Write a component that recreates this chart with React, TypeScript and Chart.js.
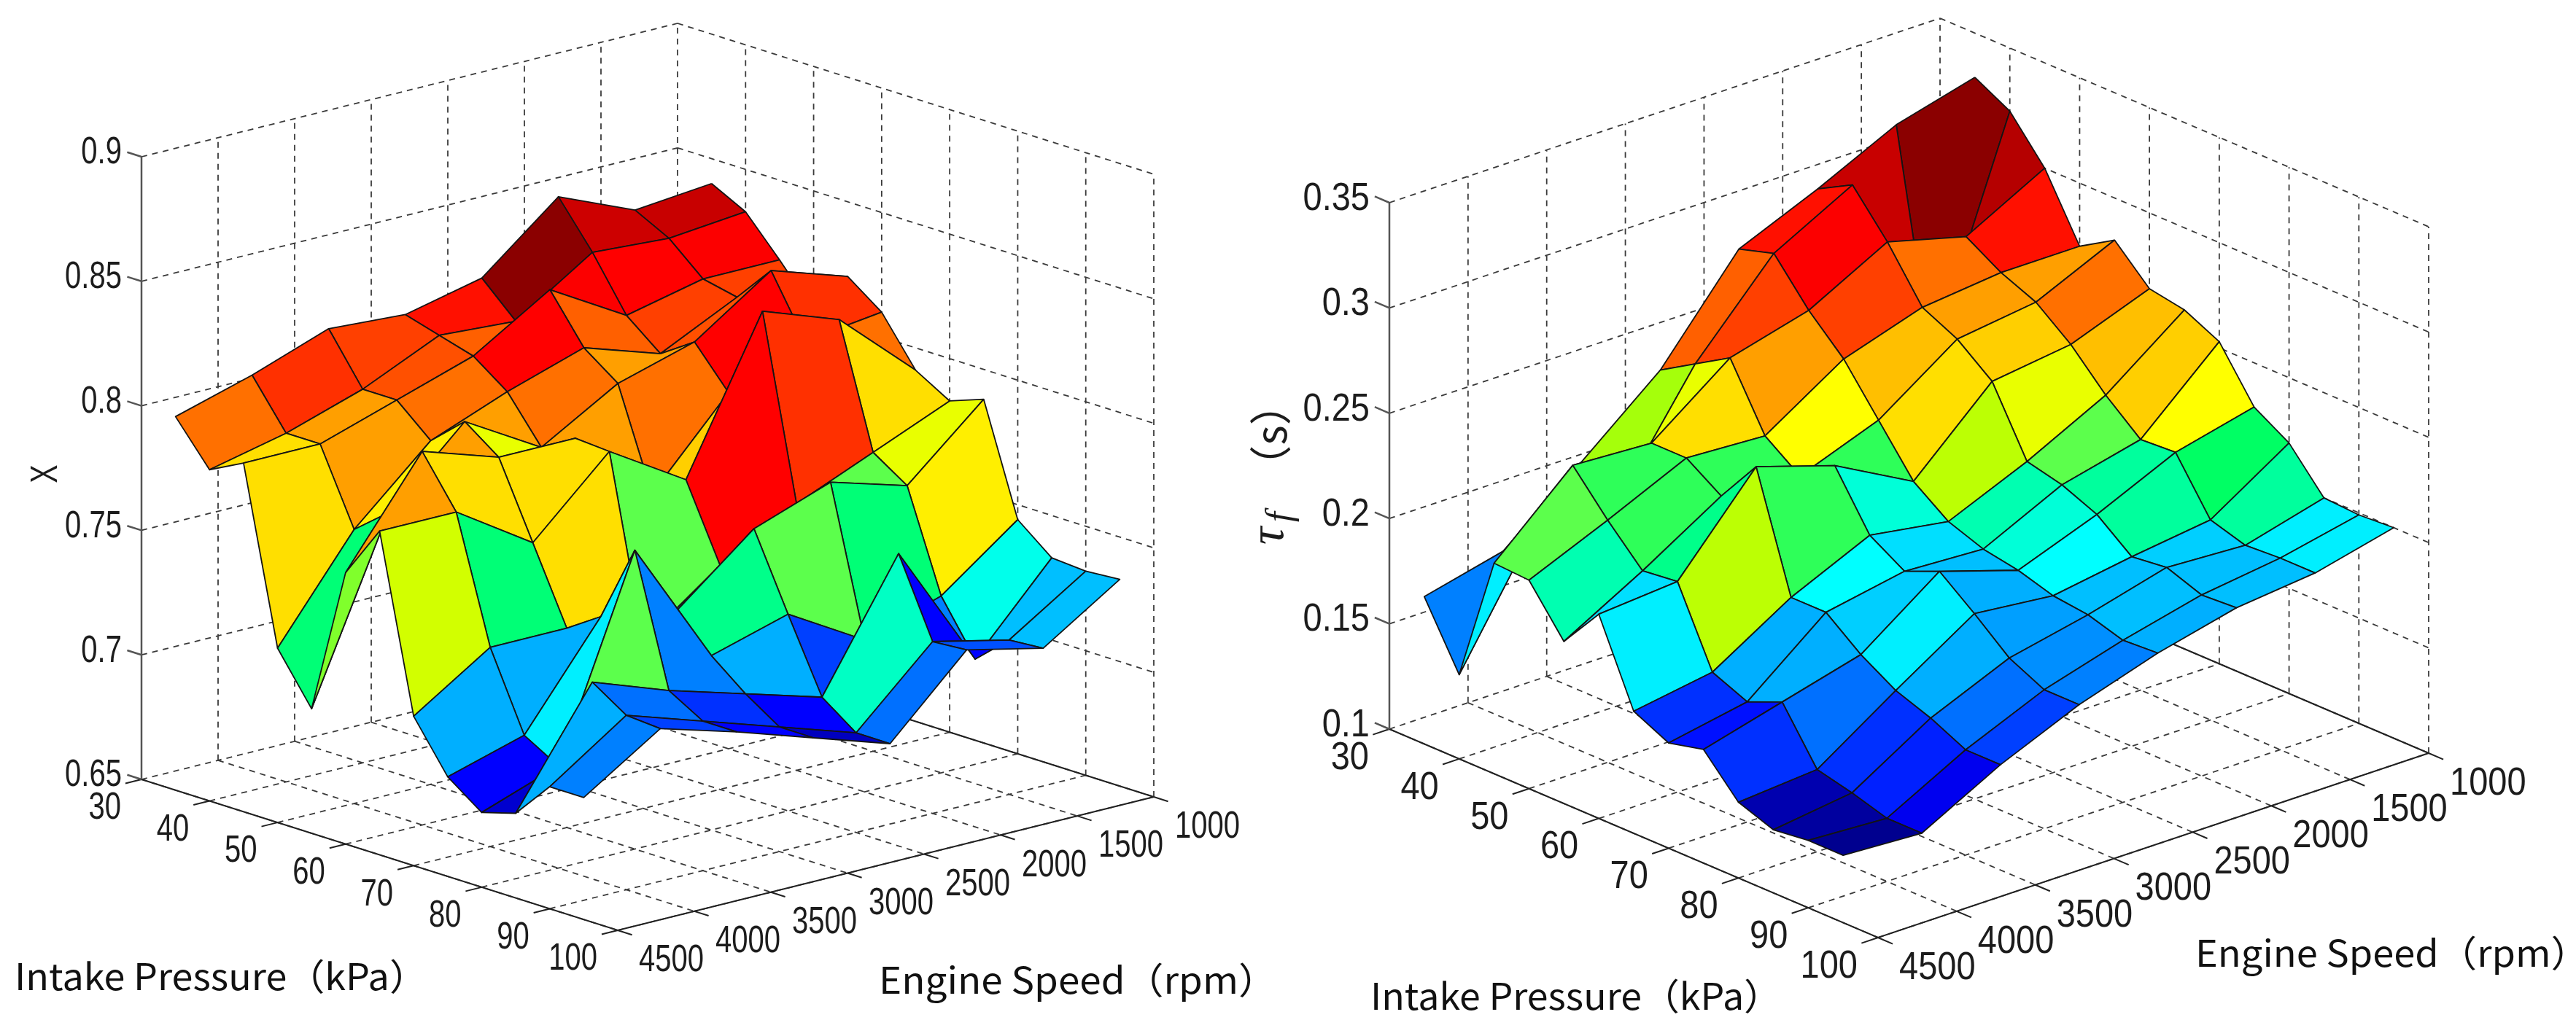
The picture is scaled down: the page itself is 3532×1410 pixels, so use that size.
import React, { useEffect, useRef } from 'react';
import Chart from 'chart.js/auto';

const PAGE_W = 3532;
const PAGE_H = 1410;

// axis ticks, same on both plots
const pressureTicks = [30, 40, 50, 60, 70, 80, 90, 100];
const speedTicks = [4500, 4000, 3500, 3000, 2500, 2000, 1500, 1000];

// measured grid of the surfaces
const pressures = [35, 40, 45, 50, 55, 60, 65, 70, 75, 80, 85, 90, 95];
const speeds = [4500, 4000, 3500, 3000, 2500, 2000, 1500, 1000];

const xTicks = [0.65, 0.7, 0.75, 0.8, 0.85, 0.9];
const xTickLabels = ['0.65', '0.7', '0.75', '0.8', '0.85', '0.9'];
const tauTicks = [0.1, 0.15, 0.2, 0.25, 0.3, 0.35];
const tauTickLabels = ['0.1', '0.15', '0.2', '0.25', '0.3', '0.35'];

// one row per engine speed (4500 -> 1000), one column per intake pressure
const xValues = [
  [0.800, 0.783, 0.790, 0.720, 0.700, 0.759, 0.780, 0.710, 0.690, 0.680, 0.684, 0.699, 0.699],
  [0.809, 0.790, 0.790, 0.760, 0.771, 0.800, 0.780, 0.730, 0.699, 0.691, 0.729, 0.720, 0.719],
  [0.820, 0.800, 0.800, 0.788, 0.800, 0.790, 0.760, 0.730, 0.739, 0.770, 0.718, 0.710, 0.710],
  [0.818, 0.814, 0.810, 0.800, 0.782, 0.790, 0.789, 0.717, 0.734, 0.720, 0.709, 0.700, 0.700],
  [0.825, 0.812, 0.829, 0.810, 0.800, 0.760, 0.770, 0.740, 0.759, 0.729, 0.700, 0.690, 0.690],
  [0.850, 0.832, 0.811, 0.800, 0.809, 0.793, 0.830, 0.757, 0.770, 0.711, 0.750, 0.719, 0.720],
  [0.837, 0.830, 0.818, 0.815, 0.830, 0.806, 0.819, 0.770, 0.761, 0.721, 0.700, 0.712, 0.713],
  [0.840, 0.833, 0.818, 0.802, 0.820, 0.810, 0.791, 0.783, 0.788, 0.744, 0.733, 0.732, 0.733],
];

const tauValues = [
  [0.170, 0.140, 0.200, 0.199, 0.177, 0.197, 0.158, 0.150, 0.154, 0.136, 0.130, 0.132, 0.132],
  [0.179, 0.200, 0.234, 0.215, 0.198, 0.200, 0.164, 0.157, 0.164, 0.139, 0.135, 0.130, 0.130],
  [0.209, 0.196, 0.232, 0.232, 0.221, 0.242, 0.187, 0.187, 0.174, 0.164, 0.158, 0.150, 0.150],
  [0.240, 0.250, 0.260, 0.230, 0.218, 0.230, 0.204, 0.194, 0.201, 0.188, 0.174, 0.166, 0.166],
  [0.285, 0.290, 0.270, 0.254, 0.232, 0.210, 0.198, 0.192, 0.189, 0.184, 0.182, 0.177, 0.178],
  [0.301, 0.310, 0.290, 0.266, 0.258, 0.245, 0.214, 0.210, 0.203, 0.190, 0.192, 0.186, 0.187],
  [0.319, 0.216, 0.280, 0.270, 0.263, 0.250, 0.233, 0.219, 0.220, 0.195, 0.190, 0.191, 0.191],
  [0.329, 0.320, 0.300, 0.270, 0.280, 0.264, 0.261, 0.253, 0.229, 0.219, 0.200, 0.199, 0.200],
];

// jet as it came out in the picture: greens pushed harder, top reds darker
const redStops = [[0, 0], [0.5, 0], [0.53, 0.35], [0.563, 0.65], [0.625, 1], [0.905, 1], [0.925, 0.82], [0.955, 0.78], [1, 0.545]];
const greenStops = [[0, 0], [0.125, 0], [0.375, 1], [0.625, 1], [0.875, 0], [1, 0]];
const blueStops = [[0, 0.5], [0.125, 1], [0.375, 1], [0.4975, 0.4], [0.53, 0.31], [0.563, 0.04], [0.59, 0], [1, 0]];

type Box = {
  corner: [number, number]; // p=30, 4500 rpm, bottom of the z axis
  front: [number, number]; // p=100, 4500 rpm
  right: [number, number]; // p=100, 1000 rpm
  height: number;
  zTicks: number[];
  zLabels: string[];
  values: number[][];
  fontSize: number;
  squeeze: number;
  pressureTitle: { x: number; y: number; w: number };
  speedTitle: { x: number; y: number; w: number };
};

const leftBox: Box = {
  corner: [194, 1069],
  front: [847, 1276],
  right: [1582, 1093],
  height: 854,
  zTicks: xTicks,
  zLabels: xTickLabels,
  values: xValues,
  fontSize: 52,
  squeeze: 0.77,
  pressureTitle: { x: 20, y: 1339, w: 566 },
  speedTitle: { x: 1205, y: 1344, w: 546 },
};

const rightBox: Box = {
  corner: [1905, 1000],
  front: [2575, 1286],
  right: [3330, 1033],
  height: 722,
  zTicks: tauTicks,
  zLabels: tauTickLabels,
  values: tauValues,
  fontSize: 54,
  squeeze: 0.87,
  pressureTitle: { x: 1879, y: 1366, w: 564 },
  speedTitle: { x: 3010, y: 1307, w: 540 },
};

// orthographic view, same as the matlab surf: straight sum of the three axis vectors
const project = (box: Box, pressure: number, speed: number, z: number) => {
  const u = (pressure - 30) / 70;
  const v = (4500 - speed) / 3500;
  const zMin = box.zTicks[0];
  const w = (z - zMin) / (box.zTicks[box.zTicks.length - 1] - zMin);
  return {
    x: box.corner[0] + u * (box.front[0] - box.corner[0]) + v * (box.right[0] - box.front[0]),
    y: box.corner[1] + u * (box.front[1] - box.corner[1]) + v * (box.right[1] - box.front[1]) - w * box.height,
  };
};

const clamp01 = (n: number) => Math.max(0, Math.min(1, n));

const readStops = (stops: number[][], t: number) => {
  for (let i = 1; i < stops.length; i++) {
    if (t <= stops[i][0]) {
      const [t0, v0] = stops[i - 1];
      const [t1, v1] = stops[i];
      return v0 + ((t - t0) / (t1 - t0)) * (v1 - v0);
    }
  }
  return stops[stops.length - 1][1];
};

const jet = (t: number) => {
  const level = (Math.min(63, Math.floor(clamp01(t) * 64)) + 1) / 64;
  const r = readStops(redStops, level);
  const g = readStops(greenStops, level);
  const b = readStops(blueStops, level);
  return `rgb(${Math.round(r * 255)},${Math.round(g * 255)},${Math.round(b * 255)})`;
};

const GAP = { x: NaN, y: NaN };

const lineSet = (data: { x: number; y: number }[], color: string, width: number, dash: number[] = []) => ({
  data,
  showLine: true,
  fill: false,
  pointRadius: 0,
  borderColor: color,
  borderWidth: width,
  borderDash: dash,
});

const gridSet = (box: Box) => {
  const zBottom = box.zTicks[0];
  const zTop = box.zTicks[box.zTicks.length - 1];
  const pts: { x: number; y: number }[] = [];
  const seg = (a: { x: number; y: number }, b: { x: number; y: number }) => pts.push(a, b, GAP);
  speedTicks.forEach((s) => {
    seg(project(box, 30, s, zBottom), project(box, 100, s, zBottom));
    if (s !== 4500) seg(project(box, 30, s, zBottom), project(box, 30, s, zTop));
  });
  pressureTicks.forEach((p) => {
    seg(project(box, p, 4500, zBottom), project(box, p, 1000, zBottom));
    seg(project(box, p, 1000, zBottom), project(box, p, 1000, zTop));
  });
  box.zTicks.forEach((z) => {
    seg(project(box, 30, 4500, z), project(box, 30, 1000, z));
    seg(project(box, 30, 1000, z), project(box, 100, 1000, z));
  });
  return lineSet(pts, '#3a3a3a', 1.8, [8, 7]);
};

const axisSets = (box: Box) => {
  const zBottom = box.zTicks[0];
  const zTop = box.zTicks[box.zTicks.length - 1];
  const ax = (box.front[0] - box.corner[0]) * 0.03;
  const ay = (box.front[1] - box.corner[1]) * 0.03;
  const bx = (box.right[0] - box.front[0]) * 0.03;
  const by = (box.right[1] - box.front[1]) * 0.03;
  const dark: { x: number; y: number }[] = [
    project(box, 30, 4500, zBottom), project(box, 100, 4500, zBottom), project(box, 100, 1000, zBottom), GAP,
    project(box, 30, 1000, zBottom), project(box, 100, 1000, zBottom), GAP,
  ];
  pressureTicks.forEach((p) => {
    const a = project(box, p, 4500, zBottom);
    dark.push(a, { x: a.x - bx, y: a.y - by }, GAP);
  });
  speedTicks.forEach((s) => {
    const a = project(box, 100, s, zBottom);
    dark.push(a, { x: a.x + ax, y: a.y + ay }, GAP);
  });
  const grey: { x: number; y: number }[] = [project(box, 30, 4500, zBottom), project(box, 30, 4500, zTop), GAP];
  box.zTicks.forEach((z) => {
    const a = project(box, 30, 4500, z);
    grey.push(a, { x: a.x - ax, y: a.y - ay }, GAP);
  });
  return [lineSet(dark, '#222', 2), lineSet(grey, '#555', 2.5)];
};

// painter's order, far corner (low pressure, low speed) first.
// a cell takes its colour from its low pressure / low speed corner
const faceSets = (box: Box) => {
  const all = box.values.flat();
  const lo = Math.min(...all);
  const hi = Math.max(...all);
  const out: any[] = [];
  for (let i = 0; i < pressures.length - 1; i++) {
    for (let k = speeds.length - 1; k > 0; k--) {
      const z = box.values;
      const corners = [
        project(box, pressures[i], speeds[k], z[k][i]),
        project(box, pressures[i + 1], speeds[k], z[k][i + 1]),
        project(box, pressures[i + 1], speeds[k - 1], z[k - 1][i + 1]),
        project(box, pressures[i], speeds[k - 1], z[k - 1][i]),
      ];
      out.push({
        data: [...corners, corners[0]],
        showLine: true,
        fill: 'shape',
        backgroundColor: jet((z[k][i] - lo) / (hi - lo)),
        borderColor: '#141414',
        borderWidth: 1.8,
        borderJoinStyle: 'round',
        pointRadius: 0,
      });
    }
  }
  return out;
};

const textAt = (
  ctx: CanvasRenderingContext2D,
  text: string,
  x: number,
  y: number,
  align: CanvasTextAlign,
  squeeze: number
) => {
  ctx.save();
  ctx.translate(x, y);
  ctx.scale(squeeze, 1);
  ctx.textAlign = align;
  ctx.textBaseline = 'middle';
  ctx.fillText(text, 0, 0);
  ctx.restore();
};

const fittedTitle = (ctx: CanvasRenderingContext2D, text: string, spot: { x: number; y: number; w: number }) => {
  ctx.font = "50px 'Noto Sans CJK SC', 'Noto Sans'";
  ctx.fillStyle = '#111';
  textAt(ctx, text, spot.x, spot.y, 'left', spot.w / ctx.measureText(text).width);
};

const sideways = (ctx: CanvasRenderingContext2D, text: string, x: number, y: number, font: string, sx = 1) => {
  ctx.save();
  ctx.translate(x, y);
  ctx.rotate(-Math.PI / 2);
  ctx.scale(sx, 1);
  ctx.font = font;
  ctx.textAlign = 'center';
  ctx.textBaseline = 'alphabetic';
  ctx.fillText(text, 0, 0);
  ctx.restore();
};

const labelsPlugin = {
  id: 'boxLabels',
  afterDatasetsDraw(chart: any) {
    const ctx: CanvasRenderingContext2D = chart.ctx;
    const sx = chart.scales.x;
    const sy = chart.scales.y;
    [leftBox, rightBox].forEach((box) => {
      const zBottom = box.zTicks[0];
      const at = (p: number, s: number, z: number) => {
        const q = project(box, p, s, z);
        return { x: sx.getPixelForValue(q.x), y: sy.getPixelForValue(q.y) };
      };
      ctx.font = `${box.fontSize}px 'Liberation Sans'`;
      ctx.fillStyle = '#1c1c1c';
      box.zTicks.forEach((z, n) => {
        const a = at(30, 4500, z);
        textAt(ctx, box.zLabels[n], a.x - 27, a.y - 5, 'right', box.squeeze);
      });
      pressureTicks.forEach((p) => {
        const a = at(p, 4500, zBottom);
        textAt(ctx, String(p), a.x - 28, a.y + 40, 'right', box.squeeze);
      });
      speedTicks.forEach((s) => {
        const a = at(100, s, zBottom);
        textAt(ctx, String(s), a.x + 29, a.y + 42, 'left', box.squeeze);
      });
      fittedTitle(ctx, 'Intake Pressure（kPa）', box.pressureTitle);
      fittedTitle(ctx, 'Engine Speed（rpm）', box.speedTitle);
    });
    ctx.fillStyle = '#1c1c1c';
    sideways(ctx, 'X', 78, 650, "52px 'Liberation Sans'", 0.72);
    sideways(ctx, 'τ', 1759, 735, "italic 68px 'Liberation Serif'");
    sideways(ctx, 'f', 1770, 709, "italic 50px 'Liberation Serif'");
    sideways(ctx, '（s）', 1764, 597, "58px 'Noto Sans CJK SC'");
  },
};

const App = () => {
  const chartRef = useRef<HTMLCanvasElement>(null);

  useEffect(() => {
    if (!chartRef.current) return;
    // first dataset is painted last, so the list goes front to back
    const backToFront = [
      gridSet(leftBox),
      gridSet(rightBox),
      ...axisSets(leftBox),
      ...axisSets(rightBox),
      ...faceSets(leftBox),
      ...faceSets(rightBox),
    ];
    const chart = new Chart(chartRef.current, {
      type: 'scatter',
      data: { datasets: backToFront.reverse() as any },
      options: {
        animation: false,
        responsive: false,
        devicePixelRatio: 1,
        events: [],
        layout: { padding: 0 },
        plugins: { legend: { display: false }, tooltip: { enabled: false }, title: { display: false } },
        scales: {
          x: { type: 'linear', min: 0, max: PAGE_W, display: false },
          y: { type: 'linear', min: 0, max: PAGE_H, reverse: true, display: false },
        },
      },
      plugins: [labelsPlugin],
    });
    return () => chart.destroy();
  }, []);

  return (
    <div style={{ position: 'absolute', left: 0, top: 0, width: PAGE_W, height: PAGE_H, background: '#fff' }}>
      <canvas ref={chartRef} width={PAGE_W} height={PAGE_H} style={{ display: 'block' }} />
    </div>
  );
};

export default App;
